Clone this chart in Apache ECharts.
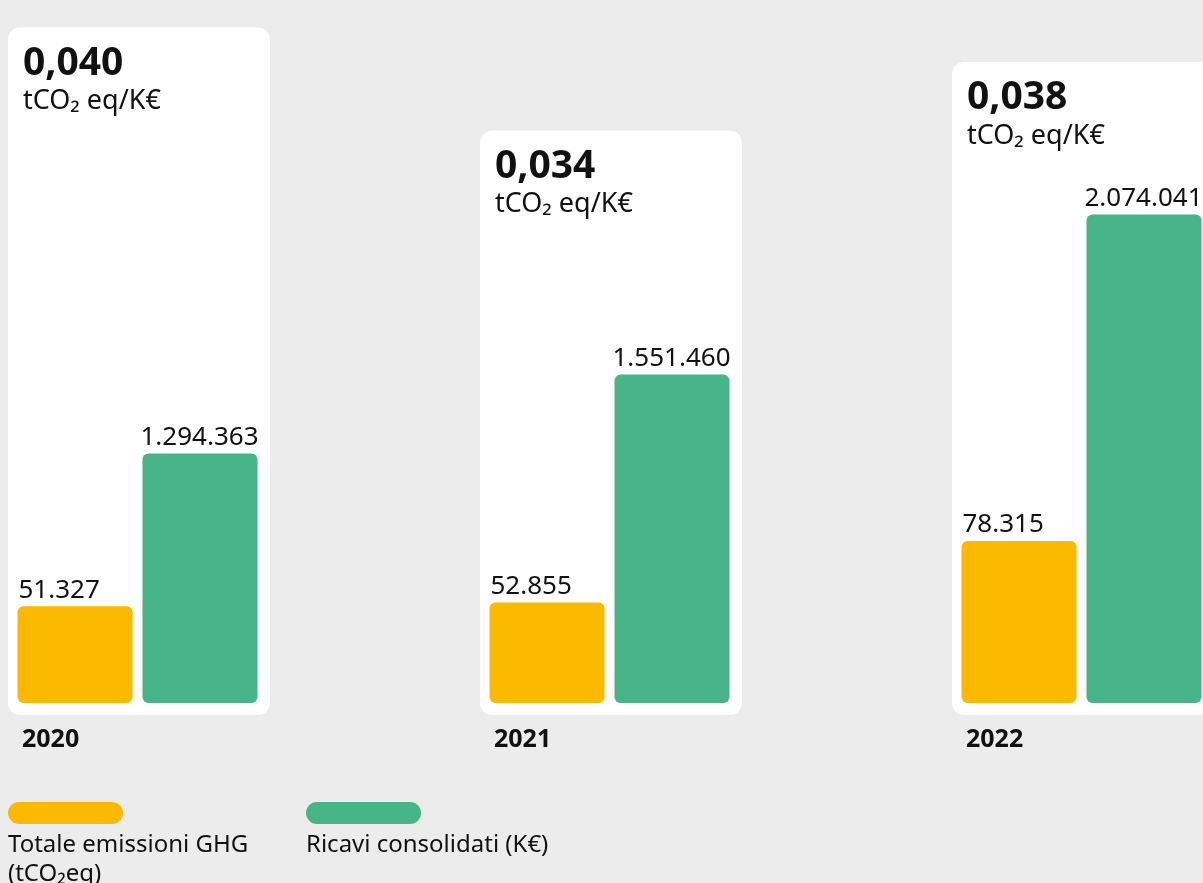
<!DOCTYPE html>
<html>
<head>
<meta charset="utf-8">
<script src="https://cdn.jsdelivr.net/npm/echarts@6/dist/echarts.min.js"></script>
<style>
  html, body { margin: 0; padding: 0; background: #ececec; }
  #chart { width: 1203px; height: 883px; }
</style>
</head>
<body>
<div id="chart"></div>
<script>
// Years shown under each panel
const years = ['2020', '2021', '2022'];
// Total GHG emissions (tCO2eq)
const ghgEmissions = [51327, 52855, 78315];
// Consolidated revenues (K€)
const revenues = [1294363, 1551460, 2074041];
// Emission intensity (tCO2eq per K€)
const intensity = [0.040, 0.034, 0.038];
// Legend captions
const ghgName = 'Totale emissioni GHG (tCO₂eq)';
const revName = 'Ricavi consolidati (K€)';
const ghgCaption = 'Totale emissioni GHG\n(tCO₂eq)';
const revCaption = 'Ricavi consolidati (K€)';
const unitText = 'tCO₂ eq/K€';

const FONT = "'Noto Sans', sans-serif";
const ORANGE = '#fbb900';
const GREEN = '#47b489';
const INK = '#111111';

const fmtThousands = v => String(v).replace(/\B(?=(\d{3})+(?!\d))/g, '.');
const fmtRatio = v => v.toFixed(3).replace('.', ',');

const chart = echarts.init(document.getElementById('chart'), null, { renderer: 'canvas' });

const pill = 'path://M11,0H104A11,11,0,0,1,104,22H11A11,11,0,0,1,11,0Z';

chart.setOption({
  backgroundColor: '#ececec',
  animation: false,
  textStyle: { fontFamily: FONT },
  grid: [
    // bars
    { left: -98.5, width: 1416, top: 3, bottom: 180, outerBoundsMode: 'none', containLabel: false },
    // white panels
    { left: -97, width: 1416, top: 0, bottom: 168, outerBoundsMode: 'none', containLabel: false }
  ],
  xAxis: [
    { type: 'category', data: years, gridIndex: 0, show: false },
    { type: 'category', data: years, gridIndex: 1, show: false }
  ],
  yAxis: [
    { type: 'value', gridIndex: 0, min: 11300, max: 300900, show: false },
    { type: 'value', gridIndex: 0, min: 480000, max: 2764000, show: false },
    { type: 'value', gridIndex: 1, min: 0, max: 0.0416, show: false }
  ],
  legend: [
    {
      data: [ghgName], left: 8, top: 802, padding: 0, itemWidth: 115, itemHeight: 22,
      icon: pill, itemGap: 0, formatter: () => '', selectedMode: false
    },
    {
      data: [revName], left: 306, top: 802, padding: 0, itemWidth: 115, itemHeight: 22,
      icon: pill, itemGap: 0, formatter: () => '', selectedMode: false
    }
  ],
  graphic: [
    {
      type: 'text', left: 8, top: 831, silent: true,
      style: { text: ghgCaption, font: '24px ' + FONT, fill: INK, lineHeight: 29 }
    },
    {
      type: 'text', left: 306, top: 831, silent: true,
      style: { text: revCaption, font: '24px ' + FONT, fill: INK, lineHeight: 29 }
    }
  ],
  series: [
    {
      type: 'bar', name: 'panel', xAxisIndex: 1, yAxisIndex: 2, z: 1,
      data: intensity, barWidth: 262, barGap: '-100%', silent: true,
      itemStyle: { color: '#ffffff', borderRadius: 12 },
      emphasis: { disabled: true },
      label: {
        show: true, position: [15, 14], align: 'left', verticalAlign: 'top',
        formatter: p => '{v|' + fmtRatio(p.value) + '}\n{u|' + unitText + '}',
        rich: {
          v: { fontFamily: FONT, fontSize: 39, fontWeight: 'bold', color: INK, lineHeight: 44 },
          u: { fontFamily: FONT, fontSize: 27, color: INK, lineHeight: 32 }
        }
      }
    },
    {
      type: 'bar', name: 'year', xAxisIndex: 1, yAxisIndex: 2, z: 1,
      data: intensity, barWidth: 262, barGap: '-100%', silent: true,
      itemStyle: { color: 'transparent' },
      emphasis: { disabled: true },
      label: {
        show: true, position: [14, '100%'], offset: [0, 12],
        align: 'left', verticalAlign: 'top',
        formatter: p => p.name,
        fontFamily: FONT, fontSize: 25, fontWeight: 'bold', color: INK
      }
    },
    {
      type: 'bar', name: ghgName, xAxisIndex: 0, yAxisIndex: 0, z: 3,
      data: ghgEmissions, barWidth: 115, barGap: '8.7%',
      itemStyle: { color: ORANGE, borderRadius: 6 },
      emphasis: { disabled: true },
      label: {
        show: true, position: [0, 0], offset: [1, -3],
        align: 'left', verticalAlign: 'bottom',
        formatter: p => fmtThousands(p.value),
        fontFamily: FONT, fontSize: 26, color: INK
      }
    },
    {
      type: 'bar', name: revName, xAxisIndex: 0, yAxisIndex: 1, z: 3,
      data: revenues, barWidth: 115, barGap: '8.7%',
      itemStyle: { color: GREEN, borderRadius: 6 },
      emphasis: { disabled: true },
      label: {
        show: true, position: ['100%', 0], offset: [1, -3],
        align: 'right', verticalAlign: 'bottom',
        formatter: p => fmtThousands(p.value),
        fontFamily: FONT, fontSize: 26, color: INK
      }
    }
  ]
});
</script>
</body>
</html>
